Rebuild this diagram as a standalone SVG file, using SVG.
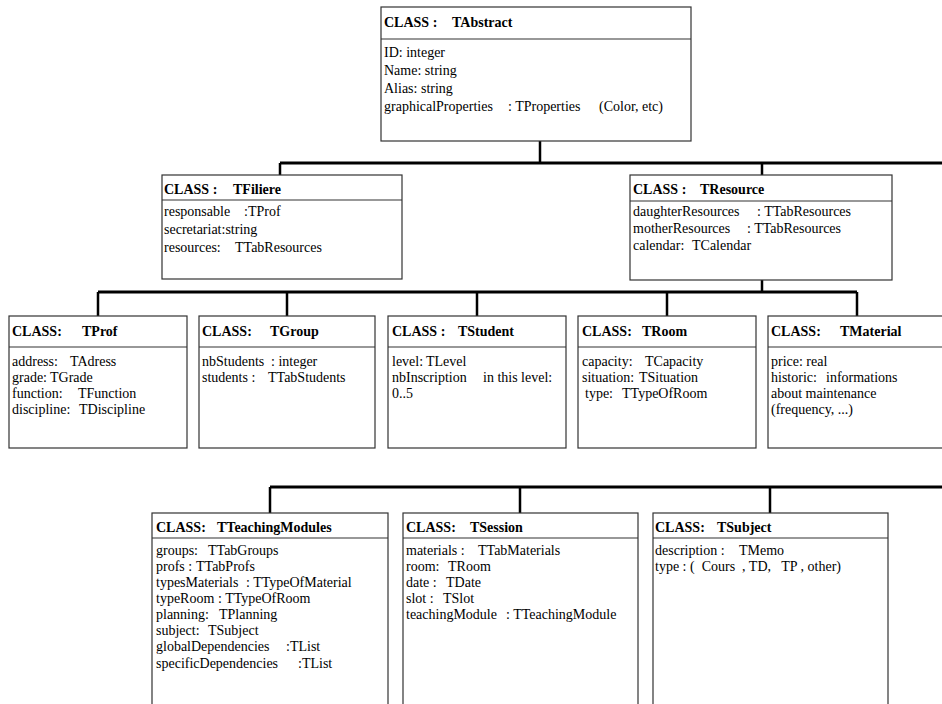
<svg xmlns="http://www.w3.org/2000/svg" width="942" height="704" viewBox="0 0 942 704">
<style>
.box{fill:#fff;stroke:#333;stroke-width:1.2}
.sep{stroke:#333;stroke-width:1.2}
.t{font-family:"Liberation Serif","Times New Roman",serif;font-size:14px;fill:#000}
.h{font-family:"Liberation Serif","Times New Roman",serif;font-size:14px;font-weight:bold;fill:#000}
.c{fill:none;stroke:#000;stroke-width:3}
.s{fill:none;stroke:#000;stroke-width:2.5}
</style>
<rect width="942" height="704" fill="#fff"/>
<g id="connectors">
<path class="s" d="M540,141 V163"/>
<path class="c" d="M280,163 H944"/>
<path class="s" d="M280,163 V175 M762,163 V175"/>
<path class="s" d="M762,280 V292"/>
<path class="c" d="M98,292 H857"/>
<path class="s" d="M98,292 V316 M287,292 V316 M477,292 V316 M667,292 V316 M857,292 V316"/>
<path class="c" d="M270,487 H944"/>
<path class="s" d="M270,487 V513 M520,487 V513 M770,487 V513"/>
</g>
<g id="TAbstract">
<rect class="box" x="381" y="7" width="310" height="134"/>
<line class="sep" x1="381" y1="39" x2="691" y2="39"/>
<text class="h" y="27"><tspan x="384">CLASS :</tspan><tspan x="452">TAbstract</tspan></text>
<text class="t" x="384" y="57">ID: integer</text>
<text class="t" x="384" y="75">Name: string</text>
<text class="t" x="384" y="93">Alias: string</text>
<text class="t" y="111"><tspan x="384">graphicalProperties</tspan><tspan x="508">: TProperties</tspan><tspan x="599">(Color, etc)</tspan></text>
</g>
<g id="TFiliere">
<rect class="box" x="162" y="175" width="240" height="104"/>
<line class="sep" x1="162" y1="200" x2="402" y2="200"/>
<text class="h" y="194"><tspan x="164">CLASS :</tspan><tspan x="233">TFiliere</tspan></text>
<text class="t" y="216"><tspan x="164">responsable</tspan><tspan x="244">:TProf</tspan></text>
<text class="t" x="164" y="234">secretariat:string</text>
<text class="t" y="252"><tspan x="164">resources:</tspan><tspan x="235">TTabResources</tspan></text>
</g>
<g id="TResource">
<rect class="box" x="630" y="175" width="262" height="105"/>
<line class="sep" x1="630" y1="201" x2="892" y2="201"/>
<text class="h" y="194"><tspan x="633">CLASS :</tspan><tspan x="700">TResource</tspan></text>
<text class="t" y="216"><tspan x="633">daughterResources</tspan><tspan x="757">: TTabResources</tspan></text>
<text class="t" y="233"><tspan x="633">motherResources</tspan><tspan x="747">: TTabResources</tspan></text>
<text class="t" y="250"><tspan x="633">calendar:</tspan><tspan x="692">TCalendar</tspan></text>
</g>
<g id="TProf">
<rect class="box" x="9" y="316" width="178" height="132"/>
<line class="sep" x1="9" y1="347" x2="187" y2="347"/>
<text class="h" y="336"><tspan x="12">CLASS:</tspan><tspan x="82">TProf</tspan></text>
<text class="t" y="366"><tspan x="12">address:</tspan><tspan x="70">TAdress</tspan></text>
<text class="t" y="382"><tspan x="12">grade:</tspan><tspan x="50">TGrade</tspan></text>
<text class="t" y="398"><tspan x="12">function:</tspan><tspan x="78">TFunction</tspan></text>
<text class="t" y="414"><tspan x="12">discipline:</tspan><tspan x="79">TDiscipline</tspan></text>
</g>
<g id="TGroup">
<rect class="box" x="199" y="316" width="176" height="132"/>
<line class="sep" x1="199" y1="347" x2="375" y2="347"/>
<text class="h" y="336"><tspan x="202">CLASS:</tspan><tspan x="270">TGroup</tspan></text>
<text class="t" y="366"><tspan x="202">nbStudents</tspan><tspan x="271">: integer</tspan></text>
<text class="t" y="382"><tspan x="202">students :</tspan><tspan x="268">TTabStudents</tspan></text>
</g>
<g id="TStudent">
<rect class="box" x="388" y="316" width="178" height="132"/>
<line class="sep" x1="388" y1="347" x2="566" y2="347"/>
<text class="h" y="336"><tspan x="392">CLASS :</tspan><tspan x="458">TStudent</tspan></text>
<text class="t" y="366"><tspan x="392">level:</tspan><tspan x="426">TLevel</tspan></text>
<text class="t" y="382"><tspan x="392">nbInscription</tspan><tspan x="483">in this level:</tspan></text>
<text class="t" x="392" y="398">0..5</text>
</g>
<g id="TRoom">
<rect class="box" x="578" y="316" width="178" height="132"/>
<line class="sep" x1="578" y1="347" x2="756" y2="347"/>
<text class="h" y="336"><tspan x="582">CLASS:</tspan><tspan x="642">TRoom</tspan></text>
<text class="t" y="366"><tspan x="582">capacity:</tspan><tspan x="645">TCapacity</tspan></text>
<text class="t" y="382"><tspan x="582">situation:</tspan><tspan x="639">TSituation</tspan></text>
<text class="t" y="398"><tspan x="585">type:</tspan><tspan x="622">TTypeOfRoom</tspan></text>
</g>
<g id="TMaterial">
<rect class="box" x="768" y="316" width="190" height="132"/>
<line class="sep" x1="768" y1="347" x2="958" y2="347"/>
<text class="h" y="336"><tspan x="771">CLASS:</tspan><tspan x="840">TMaterial</tspan></text>
<text class="t" x="771" y="366">price: real</text>
<text class="t" y="382"><tspan x="771">historic:</tspan><tspan x="826">informations</tspan></text>
<text class="t" x="771" y="398">about maintenance</text>
<text class="t" x="771" y="414">(frequency, ...)</text>
</g>
<g id="TTeachingModules">
<rect class="box" x="152" y="513" width="236" height="200"/>
<line class="sep" x1="152" y1="538" x2="388" y2="538"/>
<text class="h" y="532"><tspan x="156">CLASS:</tspan><tspan x="217">TTeachingModules</tspan></text>
<text class="t" y="555"><tspan x="156">groups:</tspan><tspan x="208">TTabGroups</tspan></text>
<text class="t" y="571"><tspan x="156">profs :</tspan><tspan x="196">TTabProfs</tspan></text>
<text class="t" y="587"><tspan x="156">typesMaterials</tspan><tspan x="246">: TTypeOfMaterial</tspan></text>
<text class="t" y="603"><tspan x="156">typeRoom</tspan><tspan x="218">: TTypeOfRoom</tspan></text>
<text class="t" y="619"><tspan x="156">planning:</tspan><tspan x="219">TPlanning</tspan></text>
<text class="t" y="635"><tspan x="156">subject:</tspan><tspan x="208">TSubject</tspan></text>
<text class="t" y="651"><tspan x="156">globalDependencies</tspan><tspan x="286">:TList</tspan></text>
<text class="t" y="668"><tspan x="156">specificDependencies</tspan><tspan x="298">:TList</tspan></text>
</g>
<g id="TSession">
<rect class="box" x="403" y="513" width="235" height="200"/>
<line class="sep" x1="403" y1="538" x2="638" y2="538"/>
<text class="h" y="532"><tspan x="406">CLASS:</tspan><tspan x="470">TSession</tspan></text>
<text class="t" y="555"><tspan x="406">materials :</tspan><tspan x="478">TTabMaterials</tspan></text>
<text class="t" y="571"><tspan x="406">room:</tspan><tspan x="448">TRoom</tspan></text>
<text class="t" y="587"><tspan x="406">date :</tspan><tspan x="446">TDate</tspan></text>
<text class="t" y="603"><tspan x="406">slot :</tspan><tspan x="443">TSlot</tspan></text>
<text class="t" y="619"><tspan x="406">teachingModule</tspan><tspan x="506">: TTeachingModule</tspan></text>
</g>
<g id="TSubject">
<rect class="box" x="653" y="513" width="235" height="200"/>
<line class="sep" x1="653" y1="538" x2="888" y2="538"/>
<text class="h" y="532"><tspan x="655">CLASS:</tspan><tspan x="717">TSubject</tspan></text>
<text class="t" y="555"><tspan x="655">description :</tspan><tspan x="739">TMemo</tspan></text>
<text class="t" x="655" y="571" xml:space="preserve">type : (  Cours  , TD,   TP , other)</text>
</g>
</svg>
